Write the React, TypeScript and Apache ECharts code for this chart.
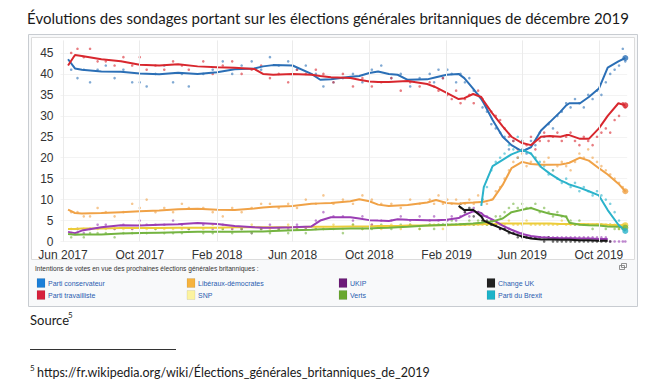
import { useEffect, useRef } from 'react';
import * as echarts from 'echarts';

// ---------- data ----------
const lineDates = [
  '2017-06-09', '2017-06-20', '2017-07-01', '2017-08-01', '2017-09-01', '2017-10-01', '2017-11-01', '2017-12-01',
  '2018-01-01', '2018-02-01', '2018-03-01', '2018-04-01', '2018-04-15', '2018-05-01', '2018-06-01', '2018-07-01',
  '2018-07-15', '2018-08-01', '2018-09-01', '2018-09-15', '2018-10-01', '2018-10-15', '2018-11-01', '2018-11-15',
  '2018-12-01', '2019-01-01', '2019-01-15', '2019-02-01', '2019-02-20', '2019-03-01', '2019-03-15', '2019-03-28',
  '2019-04-01', '2019-04-15', '2019-05-01', '2019-05-15', '2019-06-01', '2019-06-15', '2019-07-01', '2019-07-15',
  '2019-08-01', '2019-08-10', '2019-08-15', '2019-09-01', '2019-09-15', '2019-10-01', '2019-10-15', '2019-11-01',
  '2019-11-12',
];
const conLine = [43.5, 41.3, 41.0, 40.6, 40.5, 40.1, 39.9, 40.3, 40.0, 40.4, 41.1, 41.3, 41.8, 42.1, 42.0, 40.0, 38.6, 38.7, 39.3, 39.5, 40.2, 40.6, 40.0, 39.8, 38.6, 38.7, 39.2, 39.8, 40.0, 39.0, 36.5, 34.0, 33.0, 29.0, 25.0, 23.0, 21.5, 22.5, 26.5, 28.5, 31.0, 32.5, 33.0, 33.0, 34.5, 36.5, 41.5, 43.0, 43.8];
const labLine = [42.0, 44.5, 44.3, 43.5, 43.0, 42.2, 42.0, 42.3, 41.8, 41.6, 41.5, 41.2, 40.0, 39.8, 40.0, 39.8, 39.5, 39.2, 39.0, 38.6, 38.2, 38.1, 38.1, 38.2, 38.3, 37.6, 36.8, 35.5, 34.0, 34.2, 35.2, 34.5, 33.5, 30.5, 27.5, 25.0, 23.5, 23.0, 25.0, 25.2, 25.0, 25.4, 25.4, 24.5, 24.5, 27.0, 30.0, 33.0, 32.5];
const ldLine = [7.6, 6.8, 6.7, 6.8, 7.0, 7.2, 7.4, 7.7, 7.8, 7.6, 7.5, 7.9, 8.1, 8.3, 8.5, 9.0, 9.1, 9.2, 9.6, 10.1, 9.6, 8.8, 8.5, 8.6, 8.7, 9.3, 9.9, 9.2, 9.0, 9.2, 9.3, 9.4, 9.5, 10.0, 13.5, 17.5, 19.0, 18.5, 18.3, 18.3, 18.4, 18.6, 18.8, 20.0, 19.3, 17.5, 16.0, 13.8, 12.0];
const snpLine = [3.0, 3.0, 3.1, 3.1, 3.2, 3.2, 3.2, 3.3, 3.3, 3.3, 3.4, 3.4, 3.4, 3.4, 3.4, 3.5, 3.5, 3.5, 3.6, 3.6, 3.6, 3.7, 3.7, 3.7, 3.8, 3.8, 3.9, 3.9, 4.0, 4.0, 4.1, 4.1, 4.2, 4.2, 4.3, 4.3, 4.3, 4.3, 4.3, 4.3, 4.2, 4.2, 4.2, 4.2, 4.1, 4.1, 4.0, 3.9, 3.9];
const ukipLine = [2.3, 2.0, 2.6, 3.4, 3.9, 3.8, 4.0, 4.1, 4.4, 4.2, 3.7, 3.4, 3.3, 3.3, 3.4, 3.6, 5.0, 5.8, 5.8, 5.5, 5.1, 5.0, 4.9, 5.3, 5.2, 5.1, 5.1, 5.2, 5.6, 6.3, 7.2, 6.8, 6.2, 5.2, 3.8, 2.8, 1.8, 1.3, 1.0, 0.9, 0.8, 0.8, 0.8, 0.7, 0.7, 0.6, 0.6, null, null];
const greenLine = [1.8, 1.6, 1.7, 1.7, 1.9, 2.0, 2.1, 2.2, 2.3, 2.3, 2.3, 2.4, 2.4, 2.5, 2.7, 2.8, 2.9, 3.0, 3.1, 3.1, 3.1, 3.2, 3.3, 3.4, 3.5, 3.8, 3.9, 4.0, 4.1, 4.2, 4.3, 4.5, 4.6, 4.8, 5.5, 7.0, 7.6, 8.0, 7.2, 6.6, 6.2, 5.9, 4.5, 4.0, 3.9, 3.8, 3.6, 3.5, 3.3];
const chukLine = [null, null, null, null, null, null, null, null, null, null, null, null, null, null, null, null, null, null, null, null, null, null, null, null, null, null, null, null, 8.5, 7.5, 7.6, 6.0, 5.0, 4.0, 3.0, 2.0, 1.2, 0.7, 0.5, 0.5, 0.4, 0.4, 0.4, 0.3, 0.3, 0.2, 0.2, null, null];
const brexitLine = [null, null, null, null, null, null, null, null, null, null, null, null, null, null, null, null, null, null, null, null, null, null, null, null, null, null, null, null, null, null, null, 8.5, 13.0, 18.0, 19.5, 20.8, 21.8, 21.0, 17.8, 16.2, 14.6, 14.0, 13.6, 12.8, 12.0, 11.0, 7.5, 4.0, 2.5];

const pollDates = [
  '2017-06-14', '2017-06-24', '2017-07-04', '2017-07-14', '2017-07-26', '2017-08-08', '2017-08-22', '2017-09-05',
  '2017-09-19', '2017-10-01', '2017-10-12', '2017-10-26', '2017-11-09', '2017-11-23', '2017-12-07', '2017-12-18',
  '2018-01-10', '2018-01-25', '2018-02-10', '2018-02-25', '2018-03-12', '2018-03-28', '2018-04-12', '2018-04-26',
  '2018-05-10', '2018-05-25', '2018-06-08', '2018-06-22', '2018-07-08', '2018-07-20', '2018-08-05', '2018-08-20',
  '2018-09-05', '2018-09-20', '2018-10-05', '2018-10-20', '2018-11-05', '2018-11-20', '2018-12-05', '2018-12-20',
  '2019-01-05', '2019-01-12', '2019-01-19', '2019-01-26', '2019-02-02', '2019-02-09', '2019-02-16', '2019-02-23',
  '2019-03-02', '2019-03-09', '2019-03-16', '2019-03-23', '2019-03-30', '2019-04-06', '2019-04-13', '2019-04-20',
  '2019-04-27', '2019-05-04', '2019-05-11', '2019-05-18', '2019-05-25', '2019-06-01', '2019-06-08', '2019-06-15',
  '2019-06-22', '2019-06-29', '2019-07-06', '2019-07-13', '2019-07-20', '2019-07-27', '2019-08-03', '2019-08-10',
  '2019-08-17', '2019-08-24', '2019-08-31', '2019-09-07', '2019-09-14', '2019-09-21', '2019-09-28', '2019-10-05',
  '2019-10-12', '2019-10-19', '2019-10-26', '2019-11-02', '2019-11-08', '2019-11-12',
];
const conPolls = [41, 39, 41, 38, 41, 42, 39, 41, 38, 38, 37, 40, 42, 38, 40, 37, 40, 41, 43, 40, 42, 43, 41, 44, 42, 43, 41, 42, 40, 37, 38, 39, 40, 38, 41, 42, 39, 40, 37, 39,
  40, 38, 41, 39, 41, 40, 38, 40, 38, 39, 36, 35, 32, 31, 28, 27, 26, 25, 22, 24, 20, 22, 21, 24, 23, 26, 25, 28, 27, 30, 31, 33, 32, 34, 33, 32, 35, 34, 36, 35, 38, 40, 41, 42, 46, 43];
const labPolls = [45, 46, 44, 46, 43, 43, 42, 44, 42, 44, 41, 42, 41, 43, 42, 41, 43, 40, 42, 43, 40, 41, 42, 39, 40, 38, 41, 40, 41, 40, 38, 40, 37, 39, 37, 38, 39, 36, 38, 37,
  38, 37, 36, 39, 35, 34, 36, 33, 34, 35, 33, 36, 34, 32, 31, 30, 29, 27, 25, 24, 22, 24, 23, 25, 22, 24, 26, 24, 25, 26, 24, 25, 26, 24, 23, 25, 24, 23, 25, 26, 27, 26, 29, 30, 33, 32];
const ldPolls = [7, 7, 6, 6, 8, 7, 6, 7, 9, 8, 10, 7, 8, 7, 9, 8, 8, 7, 6, 8, 7, 8, 9, 9, 8, 9, 8, 10, 9, 11, 9, 10, 9, 11, 10, 9, 9, 8, 10, 9,
  10, 9, 11, 9, 10, 9, 10, 8, 9, 10, 9, 11, 10, 9, 10, 12, 13, 15, 17, 19, 20, 21, 18, 19, 20, 18, 19, 20, 17, 18, 19, 18, 17, 19, 21, 20, 22, 20, 19, 18, 17, 16, 15, 14, 13, 12];
const snpPolls = [3, 3, 3, 3, 3, 3, 3, 3, 3, 4, 3, 3, 3, 3, 3, 3, 3, 4, 3, 3, 3, 4, 3, 3, 3, 4, 3, 3, 3, 3, 4, 3, 4, 3, 4, 3, 4, 3, 4, 3,
  4, 4, 4, 3, 4, 4, 4, 4, 4, 4, 4, 4, 4, 4, 4, 4, 4, 4, 5, 4, 4, 4, 5, 4, 4, 4, 4, 4, 4, 4, 5, 4, 4, 4, 4, 4, 4, 4, 4, 4, 4, 4, 4, 3, 4, 4];
const ukipPolls = [2, 3, 2, 3, 4, 4, 3, 4, 3, 5, 4, 4, 4, 5, 4, 3, 4, 3, 4, 3, 3, 2, 3, 4, 3, 3, 4, 3, 5, 7, 6, 6, 5, 6, 4, 5, 5, 6, 5, 6,
  5, 6, 5, 4, 5, 6, 5, 6, 7, 6, 8, 7, 6, 6, 5, 4, 3, 3, 3, 2, 2, 2, 1, 1, 1, 1, 1, 1, 1, 1, 1, 1, 1, 1, 1, 1, 1, 1, 1, 1, 1, 0, 0, 0, 0, 0];
const greenPolls = [1, 2, 1, 2, 2, 2, 1, 2, 2, 2, 2, 3, 2, 2, 2, 3, 2, 2, 3, 2, 3, 2, 3, 2, 3, 2, 3, 2, 3, 3, 3, 2, 4, 3, 3, 4, 3, 4, 4, 3,
  4, 3, 4, 4, 4, 5, 4, 4, 4, 5, 4, 5, 5, 4, 5, 6, 6, 7, 8, 9, 8, 9, 8, 8, 9, 7, 8, 7, 6, 7, 6, 6, 5, 4, 5, 4, 4, 3, 4, 4, 3, 4, 3, 3, 3, 3];
const chukPolls = [null, null, null, null, null, null, null, null, null, null, null, null, null, null, null, null, null, null, null, null, null, null, null, null, null, null, null, null, null, null, null, null, null, null, null, null, null, null, null, null,
  null, null, null, null, null, null, null, 9, 7, 8, 6, 7, 5, 5, 4, 4, 3, 3, 2, 2, 1, 1, 1, 1, 1, 1, 0, 1, 0, 0, 0, 0, 0, 0, 0, 0, 0, 0, 0, 0, 0, 0, null, null, null, null];
const brexitPolls = [null, null, null, null, null, null, null, null, null, null, null, null, null, null, null, null, null, null, null, null, null, null, null, null, null, null, null, null, null, null, null, null, null, null, null, null, null, null, null, null,
  null, null, null, null, null, null, null, null, null, null, null, null, 10, 13, 17, 19, 20, 21, 23, 22, 25, 24, 22, 21, 20, 19, 18, 16, 17, 15, 14, 15, 13, 14, 12, 13, 12, 11, 12, 11, 10, 9, 7, 5, 3, 3];

const xTickDates = ['2017-06-01', '2017-10-01', '2018-02-01', '2018-06-01', '2018-10-01', '2019-02-01', '2019-06-01', '2019-10-01'];
const xTickLabels = ['Jun 2017', 'Oct 2017', 'Feb 2018', 'Jun 2018', 'Oct 2018', 'Feb 2019', 'Jun 2019', 'Oct 2019'];
const yTicks = [0, 5, 10, 15, 20, 25, 30, 35, 40, 45];

const partyNames = ['Parti conservateur', 'Parti travailliste', 'Libéraux-démocrates', 'SNP', 'UKIP', 'Verts', 'Change UK', 'Parti du Brexit'];
const legendTitle = 'Intentions de votes en vue des prochaines élections générales britanniques :';
const titleText = 'Évolutions des sondages portant sur les élections générales britanniques de décembre 2019';
const sourceText = 'Source';
const footnoteText = 'https://fr.wikipedia.org/wiki/Élections_générales_britanniques_de_2019';

// ---------- styles ----------
const lineColors = ['#2b6fb6', '#d8272e', '#f0a247', '#eccc3a', '#9a3db4', '#74b441', '#151515', '#2bb3cb'];
const legendColors = ['#1b7fd8', '#d7213c', '#f6b33f', '#fcf3a0', '#6c1a78', '#69a72e', '#222222', '#1cb3c9'];
const showEnd = [true, true, true, true, false, true, false, true];

const ts = (s: string) => new Date(s + 'T00:00:00Z').getTime();
const NARROW = "'Liberation Sans Narrow', 'Liberation Sans', Arial, sans-serif";
const SANS = "'Liberation Sans', Arial, sans-serif";
const DOC = "Lato, 'Open Sans', sans-serif";

export default function App() {
  const ref = useRef<HTMLDivElement>(null);
  useEffect(() => {
    document.body.style.margin = '0';
    const chart = echarts.init(ref.current!, undefined, { renderer: 'svg' });
    const lines = [conLine, labLine, ldLine, snpLine, ukipLine, greenLine, chukLine, brexitLine];
    const polls = [conPolls, labPolls, ldPolls, snpPolls, ukipPolls, greenPolls, chukPolls, brexitPolls];
    const tickTs = xTickDates.map(ts);

    const series: any[] = [];
    series.push({
      type: 'line', name: 'grid', data: [[tickTs[0], 0]], z: 1, silent: true, symbol: 'none',
      lineStyle: { opacity: 0 },
      markLine: {
        silent: true, symbol: ['none', 'none'], animation: false,
        label: { show: false },
        lineStyle: { color: '#ebebeb', width: 1, type: 'solid' },
        data: tickTs.map((t) => ({ xAxis: t })),
      },
    });
    polls.forEach((vals, i) => {
      series.push({
        type: 'scatter', name: partyNames[i] + ' (sondages)', z: 2, silent: true,
        symbolSize: 2.6,
        itemStyle: { color: lineColors[i], opacity: 0.6 },
        data: pollDates.map((d, k) => [ts(d), vals[k]]).filter((p) => p[1] !== null),
      });
    });
    lines.forEach((vals, i) => {
      series.push({
        type: 'line', name: partyNames[i], z: 3, silent: true,
        showSymbol: false, symbol: 'none',
        lineStyle: { color: lineColors[i], width: 2 },
        itemStyle: { color: lineColors[i] },
        data: lineDates.map((d, k) => [ts(d), vals[k]]),
      });
    });
    const ends: any[] = [];
    lines.forEach((vals, i) => {
      if (!showEnd[i]) return;
      let k = vals.length - 1;
      while (k >= 0 && vals[k] === null) k--;
      ends.push({ value: [ts(lineDates[k]), vals[k]], itemStyle: { color: lineColors[i] } });
    });
    series.push({ type: 'scatter', name: 'fin', z: 4, silent: true, symbolSize: 6, data: ends });

    const graphic: any[] = [
      { type: 'rect', shape: { x: 28.5, y: 34.5, width: 609, height: 272 }, style: { fill: '#f8f9fa', stroke: '#c8ccd1', lineWidth: 1 }, z: -10 },
      { type: 'rect', shape: { x: 31.5, y: 37.5, width: 603, height: 222 }, style: { fill: '#ffffff', stroke: '#dcdcdc', lineWidth: 1 }, z: -9 },
      { type: 'text', x: 328, y: 18, style: { text: titleText, fontSize: 15, fontFamily: DOC, fill: '#1a1a1a', align: 'center', verticalAlign: 'middle' } },
      { type: 'text', x: 35, y: 268, style: { text: legendTitle, fontSize: 6.6, fontFamily: NARROW, fill: '#333333', align: 'left', verticalAlign: 'middle' } },
      { type: 'rect', shape: { x: 619.5, y: 265.5, width: 5, height: 4 }, style: { fill: 'none', stroke: '#777', lineWidth: 0.8 } },
      { type: 'rect', shape: { x: 621.5, y: 263.5, width: 5, height: 4 }, style: { fill: 'none', stroke: '#777', lineWidth: 0.8 } },
      { type: 'text', x: 30, y: 320, style: { text: sourceText, fontSize: 13, fontFamily: DOC, fill: '#1a1a1a', align: 'left', verticalAlign: 'middle' } },
      { type: 'text', x: 68, y: 315, style: { text: '5', fontSize: 8, fontFamily: DOC, fill: '#1a1a1a', align: 'left', verticalAlign: 'middle' } },
      { type: 'line', shape: { x1: 30, y1: 349.5, x2: 176, y2: 349.5 }, style: { stroke: '#333', lineWidth: 1 } },
      { type: 'text', x: 30, y: 368, style: { text: '5', fontSize: 8, fontFamily: DOC, fill: '#1a1a1a', align: 'left', verticalAlign: 'middle' } },
      { type: 'text', x: 37, y: 372, style: { text: footnoteText, fontSize: 12.5, fontFamily: DOC, fill: '#1a1a1a', align: 'left', verticalAlign: 'middle' } },
    ];
    const colX = [37, 187, 339, 487];
    partyNames.forEach((n, i) => {
      const cx = colX[Math.floor(i / 2)];
      const cy = i % 2 === 0 ? 283 : 295;
      graphic.push({ type: 'rect', shape: { x: cx, y: cy - 4.5, width: 8, height: 9 }, style: { fill: legendColors[i], stroke: 'rgba(0,0,0,0.15)', lineWidth: 0.5 } });
      graphic.push({ type: 'text', x: cx + 11, y: cy, style: { text: n, fontSize: 7, fontFamily: SANS, fill: '#2a5db0', align: 'left', verticalAlign: 'middle' } });
    });

    chart.setOption({
      animation: false,
      grid: { left: 60.5, top: 40.4, width: 566.7, height: 201.1, containLabel: false, outerBoundsMode: 'none' },
      xAxis: {
        type: 'value', min: ts('2017-05-28'), max: ts('2019-11-15'),
        axisLine: { show: false }, axisTick: { show: false, customValues: tickTs },
        splitLine: { show: false },
        axisLabel: {
          customValues: tickTs, fontSize: 12, fontFamily: NARROW, color: '#333', margin: 7,
          formatter: (v: number) => {
            let best = 0;
            tickTs.forEach((t, k) => { if (Math.abs(t - v) < Math.abs(tickTs[best] - v)) best = k; });
            return xTickLabels[best];
          },
        },
      },
      yAxis: {
        type: 'value', min: 0, max: 48, interval: 5,
        axisLine: { show: false }, axisTick: { show: false, customValues: yTicks },
        splitLine: { lineStyle: { color: '#f3f3f3', width: 1 } },
        axisLabel: { customValues: yTicks, fontSize: 12, fontFamily: NARROW, color: '#333', margin: 7 },
      },
      graphic,
      series,
    });
    return () => chart.dispose();
  }, []);
  return <div ref={ref} style={{ position: 'fixed', left: 0, top: 0, width: 656, height: 384, background: '#fff' }} />;
}
